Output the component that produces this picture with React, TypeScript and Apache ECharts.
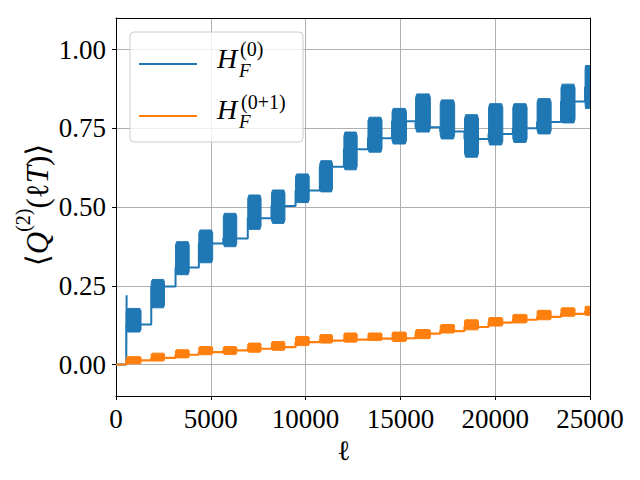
import React, { useEffect, useRef } from "react";
import * as echarts from "echarts";

// Burst windows (in ℓ) shared by both series
const burstStart = [540, 1860, 3140, 4370, 5660, 6950, 8200, 9470, 10750, 12020, 13290, 14560, 15800, 17100, 18380, 19650, 20930, 22210, 23470, 24740];
const burstEnd = [1320, 2560, 3860, 5100, 6370, 7650, 8910, 10190, 11420, 12720, 14030, 15320, 16580, 17860, 19120, 20400, 21680, 22950, 24210, 25000];

// H_F^(0): oscillation envelope inside each burst and plateau level after it
const blueLow = [0.103, 0.18, 0.285, 0.323, 0.374, 0.429, 0.448, 0.514, 0.548, 0.618, 0.674, 0.7, 0.738, 0.716, 0.658, 0.697, 0.705, 0.732, 0.767, 0.813];
const blueHigh = [0.178, 0.27, 0.39, 0.427, 0.48, 0.538, 0.554, 0.605, 0.647, 0.738, 0.785, 0.813, 0.859, 0.84, 0.793, 0.828, 0.828, 0.844, 0.89, 0.949];
const blueFlat = [0.127, 0.248, 0.308, 0.384, 0.4, 0.464, 0.503, 0.552, 0.628, 0.683, 0.718, 0.772, 0.753, 0.74, 0.716, 0.732, 0.75, 0.77, 0.835, 0.88];
const blueSpike = [560, 0.22];

// H_F^(0+1)
const orangeLow = [0.002, 0.011, 0.021, 0.031, 0.032, 0.039, 0.045, 0.06, 0.068, 0.071, 0.076, 0.073, 0.082, 0.1, 0.11, 0.122, 0.132, 0.142, 0.153, 0.156];
const orangeHigh = [0.025, 0.036, 0.047, 0.057, 0.057, 0.068, 0.073, 0.089, 0.095, 0.1, 0.1, 0.103, 0.111, 0.127, 0.142, 0.149, 0.159, 0.172, 0.18, 0.185];
const orangeFlat = [0.013, 0.021, 0.031, 0.039, 0.045, 0.05, 0.055, 0.071, 0.076, 0.079, 0.082, 0.084, 0.098, 0.106, 0.119, 0.133, 0.142, 0.151, 0.161, 0.168];

const xTicks = [0, 5000, 10000, 15000, 20000, 25000];
const yTicks = [0, 0.25, 0.5, 0.75, 1.0];
const yTickLabels = ["0.00", "0.25", "0.50", "0.75", "1.00"];
const xMin = 0;
const xMax = 25000;
const yMin = -0.1;
const yMax = 1.1;

const BLUE = "#1f77b4";
const ORANGE = "#ff7f0e";
const SERIF = "'Liberation Serif', 'DejaVu Serif', serif";

function stepLine(flat: number[], spike?: number[]) {
  const pts: number[][] = [[xMin, 0], [burstStart[0], 0]];
  if (spike) pts.push(spike);
  let prev = 0;
  for (let i = 0; i < burstStart.length; i++) {
    pts.push([burstStart[i], prev]);
    pts.push([burstStart[i], flat[i]]);
    prev = flat[i];
  }
  pts.push([xMax, prev]);
  return pts;
}

function bursts(low: number[], high: number[]) {
  return burstStart.map((s, i) => [s, burstEnd[i], low[i], high[i]]);
}

function burstRender(color: string) {
  return (params: any, api: any) => {
    const x0 = api.value(0);
    const x1 = api.value(1);
    const lo = api.value(2);
    const hi = api.value(3);
    const r = hi - lo;
    const w = x1 - x0;
    const pts = [
      api.coord([x0, hi - 0.1 * r]),
      api.coord([x0 + 0.08 * w, hi]),
      api.coord([x1 - 0.08 * w, hi]),
      api.coord([x1, hi - 0.1 * r]),
      api.coord([x1, lo + 0.1 * r]),
      api.coord([x1 - 0.08 * w, lo]),
      api.coord([x0 + 0.08 * w, lo]),
      api.coord([x0, lo + 0.1 * r]),
    ];
    return {
      type: "polygon",
      shape: { points: pts },
      style: { fill: color, stroke: color, lineWidth: 1 },
    };
  };
}

export default function App() {
  const ref = useRef<HTMLDivElement>(null);
  useEffect(() => {
    const chart = echarts.init(ref.current!, null, { renderer: "svg" });
    const axisText = { fontFamily: SERIF, fontSize: 27, color: "#000" };
    const option: any = {
      animation: false,
      backgroundColor: "#fff",
      grid: { left: 116, right: 50, top: 18, bottom: 84, containLabel: false },
      xAxis: [
        {
          type: "value",
          min: xMin,
          max: xMax,
          interval: 5000,
          axisLine: { show: true, onZero: false, lineStyle: { color: "#000", width: 1 } },
          axisTick: { show: true, inside: false, length: 4, lineStyle: { color: "#000" } },
          axisLabel: { ...axisText, margin: 9, formatter: (v: number) => (xTicks.includes(v) ? String(v) : "") },
          splitLine: { show: true, lineStyle: { color: "#b0b0b0", width: 1 } },
        },
        {
          type: "value",
          position: "top",
          min: xMin,
          max: xMax,
          axisLine: { show: true, onZero: false, lineStyle: { color: "#000", width: 1 } },
          axisTick: { show: false },
          axisLabel: { show: false },
          splitLine: { show: false },
        },
      ],
      yAxis: [
        {
          type: "value",
          min: yMin,
          max: yMax,
          axisLine: { show: true, onZero: false, lineStyle: { color: "#000", width: 1 } },
          axisTick: { show: true, inside: false, length: 4, customValues: yTicks, lineStyle: { color: "#000" } },
          axisLabel: {
            ...axisText,
            margin: 10,
            customValues: yTicks,
            formatter: (v: number) => {
              const i = yTicks.findIndex((t) => Math.abs(t - v) < 1e-9);
              return i >= 0 ? yTickLabels[i] : "";
            },
          },
          splitLine: { show: true, lineStyle: { color: "#b0b0b0", width: 1 } },
        },
        {
          type: "value",
          position: "right",
          min: yMin,
          max: yMax,
          axisLine: { show: true, onZero: false, lineStyle: { color: "#000", width: 1 } },
          axisTick: { show: false },
          axisLabel: { show: false },
          splitLine: { show: false },
        },
      ],
      series: [
        {
          type: "line",
          data: stepLine(blueFlat, blueSpike),
          showSymbol: false,
          symbol: "none",
          lineStyle: { color: BLUE, width: 2 },
          clip: true,
          z: 2,
        },
        {
          type: "custom",
          data: bursts(blueLow, blueHigh),
          renderItem: burstRender(BLUE),
          encode: { x: [0, 1], y: [2, 3] },
          clip: true,
          z: 2,
        },
        {
          type: "line",
          data: stepLine(orangeFlat),
          showSymbol: false,
          symbol: "none",
          lineStyle: { color: ORANGE, width: 2.2 },
          clip: true,
          z: 3,
        },
        {
          type: "custom",
          data: bursts(orangeLow, orangeHigh),
          renderItem: burstRender(ORANGE),
          encode: { x: [0, 1], y: [2, 3] },
          clip: true,
          z: 3,
        },
      ],
      graphic: [
        {
          type: "rect",
          shape: { x: 130, y: 32, width: 173, height: 110, r: 4 },
          style: { fill: "rgba(255,255,255,0.8)", stroke: "#cccccc", lineWidth: 1 },
          z: 10,
        },
        { type: "line", shape: { x1: 139, y1: 64, x2: 197, y2: 64 }, style: { stroke: BLUE, lineWidth: 2 }, z: 11 },
        { type: "line", shape: { x1: 139, y1: 116, x2: 197, y2: 116 }, style: { stroke: ORANGE, lineWidth: 2 }, z: 11 },
        { type: "text", x: 217, y: 58, style: { text: "H", fontFamily: SERIF, fontSize: 28, fontStyle: "italic", fill: "#000", align: "left", verticalAlign: "middle" }, z: 11 },
        { type: "text", x: 240, y: 49, style: { text: "(0)", fontFamily: SERIF, fontSize: 20, fill: "#000", align: "left", verticalAlign: "middle" }, z: 11 },
        { type: "text", x: 239, y: 70, style: { text: "F", fontFamily: SERIF, fontSize: 19, fontStyle: "italic", fill: "#000", align: "left", verticalAlign: "middle" }, z: 11 },
        { type: "text", x: 217, y: 109, style: { text: "H", fontFamily: SERIF, fontSize: 28, fontStyle: "italic", fill: "#000", align: "left", verticalAlign: "middle" }, z: 11 },
        { type: "text", x: 241, y: 102, style: { text: "(0+1)", fontFamily: SERIF, fontSize: 20, fill: "#000", align: "left", verticalAlign: "middle" }, z: 11 },
        { type: "text", x: 239, y: 121, style: { text: "F", fontFamily: SERIF, fontSize: 19, fontStyle: "italic", fill: "#000", align: "left", verticalAlign: "middle" }, z: 11 },
        {
          type: "text",
          x: 344,
          y: 450,
          style: { text: "ℓ", fontFamily: SERIF, fontSize: 28, fill: "#000", align: "center", verticalAlign: "middle" },
          z: 11,
        },
        {
          type: "text",
          x: 33,
          y: 205,
          rotation: Math.PI / 2,
          style: {
            text: "{n|⟨}{i|Q}{s|(2)}{n|(}{n|ℓ}{i|T}{n|)⟩}",
            align: "center",
            verticalAlign: "middle",
            fill: "#000",
            rich: {
              n: { fontFamily: SERIF, fontSize: 31, lineHeight: 40, verticalAlign: "bottom", fill: "#000" },
              i: { fontFamily: SERIF, fontSize: 31, fontStyle: "italic", lineHeight: 40, verticalAlign: "bottom", fill: "#000" },
              s: { fontFamily: SERIF, fontSize: 20, lineHeight: 20, verticalAlign: "top", fill: "#000" },
            },
          },
          z: 11,
        },
      ],
    };
    chart.setOption(option);
    return () => chart.dispose();
  }, []);
  return <div ref={ref} style={{ position: "fixed", left: 0, top: 0, width: 640, height: 480 }} />;
}
